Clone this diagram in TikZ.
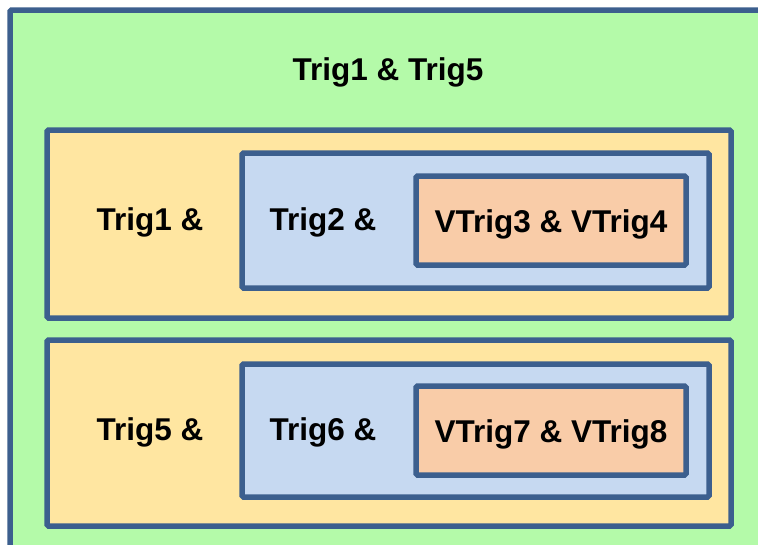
\documentclass[tikz,border=0pt]{standalone}
\usepackage{fontspec}
\setmainfont{Liberation Sans}
\usepackage{xcolor}
\usepackage{tikz}
\usetikzlibrary{positioning}
\definecolor{edge}{HTML}{3C5F8E}
\definecolor{green1}{HTML}{B4FAA9}
\definecolor{yellow1}{HTML}{FFE6A1}
\definecolor{blue1}{HTML}{C6D9F1}
\definecolor{orange1}{HTML}{F9CCA8}

\begin{document}
\begin{tikzpicture}[x=1pt, y=-1pt,
    box/.style={draw=edge, line width=5.5pt, rounded corners=1.5pt},
    every node/.style={font=\fontsize{31.5}{38}\selectfont\bfseries, anchor=base}]
        \useasboundingbox (0,0) rectangle (758,544);
        \clip (0,0) rectangle (758,544);

        % outer block
        \draw[box, fill=green1] (10,10) rectangle (800,600);
        \node (top) at (388,80) {Trig1 \& Trig5};

        % first group
        \draw[box, fill=yellow1] (47,130) rectangle (731,318);
        \draw[box, fill=blue1] (242,153) rectangle (709,288);
        \draw[box, fill=orange1] (416,176) rectangle (686,265);
        \node (t1) at (150,230) {Trig1 \&};
        \node (t2) at (323,230) {Trig2 \&};
        \node (v34) at (551,232) {VTrig3 \& VTrig4};

        % second group
        \draw[box, fill=yellow1] (47,340) rectangle (731,526);
        \draw[box, fill=blue1] (242,364) rectangle (709,497);
        \draw[box, fill=orange1] (416,386) rectangle (686,475);
        \node (t5) at (150,440) {Trig5 \&};
        \node (t6) at (323,440) {Trig6 \&};
        \node (v78) at (551,442) {VTrig7 \& VTrig8};
      \end{tikzpicture}
\end{document}
